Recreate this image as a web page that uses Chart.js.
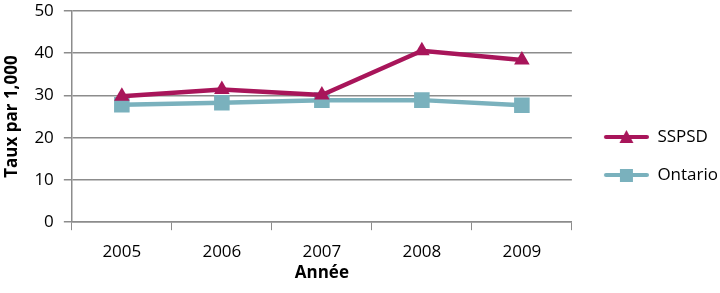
<!DOCTYPE html>
<html>
<head>
<meta charset="utf-8">
<script src="https://cdn.jsdelivr.net/npm/chart.js@4/dist/chart.umd.min.js"></script>
<style>
  html, body { margin: 0; padding: 0; background: #fff; }
  #wrap { width: 720px; height: 293px; }
</style>
</head>
<body>
<div id="wrap"><canvas id="myChart" width="720" height="293"></canvas></div>
<script>
const years = ['2005', '2006', '2007', '2008', '2009'];
const sspsd = [29.8, 31.4, 30.1, 40.6, 38.4];
const ontario = [27.8, 28.3, 28.9, 28.9, 27.7];
const yTicks = [0, 10, 20, 30, 40, 50];

const FONT = '"Open Sans", "Liberation Sans", sans-serif';
const GRID = '#8c8c8c';
const RED = '#a8155a';
const TEAL = '#7ab1bd';

// line+marker swatch for the legend (blank strip on the left keeps it off the plot)
function swatch(color, style) {
  const c = document.createElement('canvas');
  c.width = 56; c.height = 16;
  const g = c.getContext('2d');
  g.strokeStyle = color; g.lineWidth = 4; g.lineCap = 'round';
  g.beginPath(); g.moveTo(13, 8); g.lineTo(54, 8); g.stroke();
  g.fillStyle = color;
  if (style === 'triangle') {
    g.beginPath(); g.moveTo(33.5, 1); g.lineTo(40.5, 14); g.lineTo(26.5, 14); g.closePath(); g.fill();
  } else {
    g.fillRect(27, 2, 13, 13);
  }
  return c;
}

const ctx = document.getElementById('myChart').getContext('2d');
const myChart = new Chart(ctx, {
  type: 'line',
  data: {
    labels: years,
    datasets: [
      {
        label: 'SSPSD',
        data: sspsd,
        borderColor: RED,
        backgroundColor: RED,
        borderWidth: 4.5,
        pointStyle: 'triangle',
        pointRadius: 9,
        pointBorderWidth: 0,
        fill: false,
      },
      {
        label: 'Ontario',
        data: ontario,
        borderColor: TEAL,
        backgroundColor: TEAL,
        borderWidth: 4.5,
        pointStyle: 'rect',
        pointRadius: 11,
        pointBorderWidth: 0,
        fill: false,
      },
    ],
  },
  options: {
    responsive: false,
    animation: false,
    layout: { padding: { top: 0, right: -8, left: 0, bottom: 0 } },
    plugins: {
      tooltip: { enabled: false },
      legend: {
        position: 'right',
        title: { display: true, text: ' ', padding: { top: 3.5, bottom: 3.5 }, font: { size: 10 } },
        labels: {
          usePointStyle: true,
          pointStyleWidth: 56,
          padding: 21,
          color: '#000',
          font: { family: FONT, size: 17 },
          generateLabels(chart) {
            return chart.data.datasets.map((ds, i) => ({
              text: ds.label,
              fillStyle: ds.borderColor,
              strokeStyle: ds.borderColor,
              fontColor: '#000',
              lineWidth: 0,
              pointStyle: swatch(ds.borderColor, ds.pointStyle),
              datasetIndex: i,
              hidden: false,
            }));
          },
        },
      },
    },
    scales: {
      x: {
        offset: true,
        grid: { display: true, drawOnChartArea: false, drawTicks: true, tickLength: 8, color: GRID, offset: true },
        border: { display: true, color: GRID, width: 1.5 },
        ticks: { color: '#000', font: { family: FONT, size: 17 }, padding: 12 },
        title: { display: true, text: 'Année', color: '#000', font: { family: FONT, size: 17, weight: 'bold' }, padding: { top: -12, bottom: 10 } },
      },
      y: {
        min: 0,
        max: 50,
        afterBuildTicks(axis) { axis.ticks = yTicks.map(v => ({ value: v })); },
        // tick padding would otherwise push the plot top down
        afterFit(axis) { axis.paddingTop = 10; },
        grid: { color: GRID, lineWidth: 1.5, tickLength: 8 },
        border: { display: true, color: GRID, width: 1.5 },
        ticks: { color: '#000', font: { family: FONT, size: 17 }, padding: 10 },
        title: { display: true, text: 'Taux par 1,000', color: '#000', font: { family: FONT, size: 17, weight: 'bold' }, padding: { top: 2, bottom: 2 } },
      },
    },
  },
});
</script>
</body>
</html>
